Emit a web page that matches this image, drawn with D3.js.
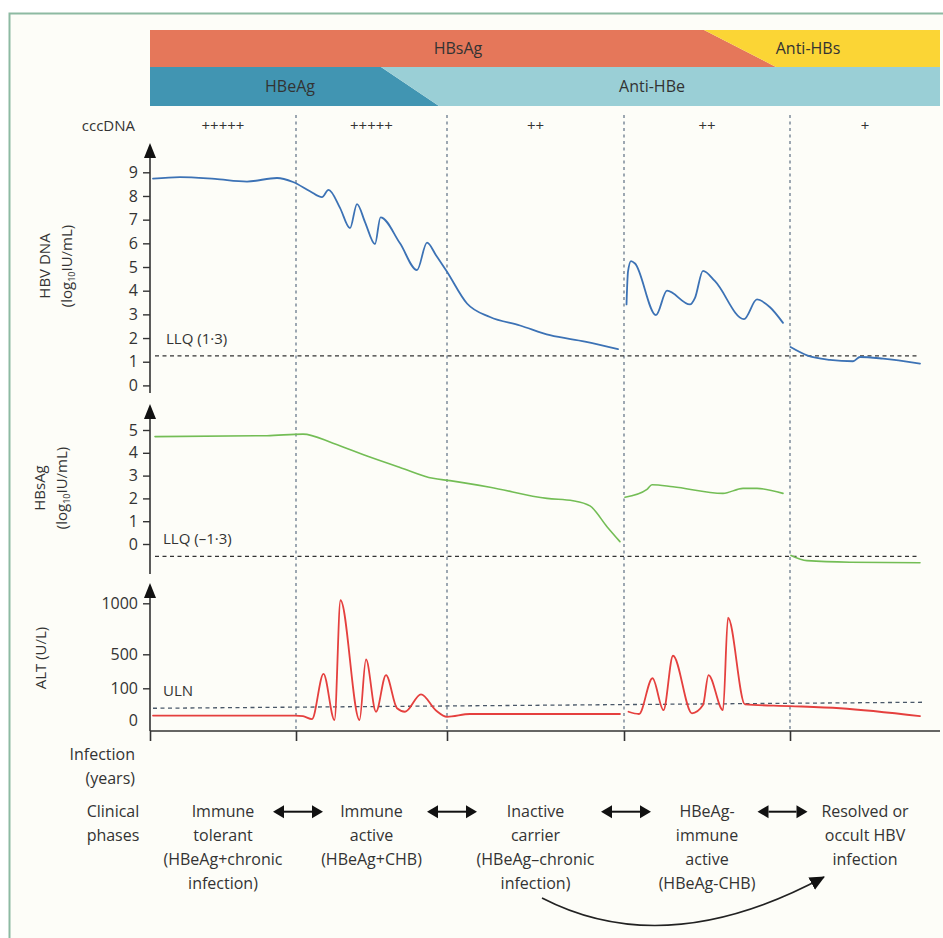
<!DOCTYPE html>
<html><head><meta charset="utf-8">
<script src="https://cdn.jsdelivr.net/npm/d3@7"></script>
<style>
body{margin:0;background:#fff}
text{font-family:'Open Sans',sans-serif;fill:#333}
</style></head>
<body><svg id="c" width="943" height="938"></svg>
<script>
// ---------- data ----------
const phaseBounds = [0, 14.6, 29.7, 47.4, 64.0, 79];
const cccDNA = ["+++++", "+++++", "++", "++", "+"];
const phaseLabels = [
  ["Immune", "tolerant", "(HBeAg+chronic", "infection)"],
  ["Immune", "active", "(HBeAg+CHB)"],
  ["Inactive", "carrier", "(HBeAg\u2013chronic", "infection)"],
  ["HBeAg-", "immune", "active", "(HBeAg-CHB)"],
  ["Resolved or", "occult HBV", "infection"]
];
const arrowCenters = [14.8, 30.2, 47.6, 63.25];
const hbsBand = {label: "HBsAg", labelAt: 30.8, until: [55.4, 62.6], next: "Anti-HBs", nextAt: 65.8};
const hbeBand = {label: "HBeAg", labelAt: 14.0, until: [23.1, 28.9], next: "Anti-HBe", nextAt: 50.2};

const dnaTicks = [0, 1, 2, 3, 4, 5, 6, 7, 8, 9];
const hbsTicks = [0, 1, 2, 3, 4, 5];
const altTicks = [0, 100, 500, 1000];

const dnaLLQ = 1.25, dnaLLQLabel = "LLQ (1\u00b73)";
const hbsLLQ = -0.54, hbsLLQLabel = "LLQ (\u20131\u00b73)";
const altULN = [37, 56], altULNLabel = "ULN";

const dnaSeg1 = [[0.3,8.73],[3,8.8],[6.5,8.72],[9.7,8.61],[12.7,8.76],[14.3,8.59],[16,8.2],[17.2,7.95],[17.85,8.26],[19,7.5],[20,6.64],[20.7,7.66],[21.5,6.9],[22.5,5.97],[23.05,7.1],[25,6.0],[26.7,4.87],[27.7,6.03],[28.6,5.5],[29.7,4.8],[31.7,3.46],[34,2.89],[37,2.53],[40,2.12],[43.5,1.85],[46.8,1.53]];
const dnaSeg2 = [[47.65,3.42],[47.8,4.8],[48.1,5.25],[48.5,5.15],[50.6,2.97],[51.7,4.0],[54,3.42],[54.5,3.7],[55.3,4.84],[56.5,4.4],[59.4,2.8],[60.7,3.63],[62,3.3],[63.3,2.64]];
const dnaSeg3 = [[64.05,1.62],[65.7,1.27],[68,1.08],[70.3,1.02],[71,1.2],[73.3,1.13],[77,0.92]];

const hbsSeg1 = [[0.5,4.71],[11.7,4.75],[15.3,4.82],[18.3,4.42],[21.7,3.86],[25,3.36],[28.3,2.88],[30,2.78],[34,2.49],[39.7,2.0],[42.3,1.9],[44,1.67],[45.7,0.76],[47,0.1]];
const hbsSeg2 = [[47.5,2.05],[49.7,2.4],[50.2,2.6],[52.3,2.51],[57.3,2.22],[59.3,2.44],[60.7,2.44],[63.3,2.22]];
const hbsSeg3 = [[64.1,-0.5],[65.7,-0.73],[70,-0.8],[77,-0.82]];

const altSeg1 = [[0.3,14],[14.5,14],[15.3,12],[16.2,3],[17.35,270],[18.45,0],[19.05,1030],[20.95,0],[21.6,440],[22.6,26],[23.6,256],[24.7,37],[25.5,26],[27.1,81],[28.6,30],[29.7,10],[32,19],[47,19]];
const altSeg2 = [[47.85,26],[48.9,19],[50.25,218],[51.35,31],[52.3,483],[54.2,21],[55.3,47],[55.85,256],[57.3,31],[57.8,859],[59.5,49],[64,44],[69,37],[77,12]];

// ---------- layout ----------
const svg = d3.select("#c");
const x = d3.scaleLinear().domain([0, 79]).range([150, 940]);
const yDNA = d3.scaleLinear().domain([0, 9]).range([385.4, 172.3]);
const yHBs = d3.scaleLinear().domain([0, 5]).range([544, 430]);
const yALT = d3.scaleLinear().domain([0, 100, 500, 1000]).range([720, 688.3, 654.3, 603.3]);
const xAxisY = 731;

// frame
svg.append("rect").attr("x", 0).attr("y", 0).attr("width", 943).attr("height", 938).attr("fill", "#fff");
svg.append("rect").attr("x", 9.5).attr("y", 13.5).attr("width", 1000).attr("height", 1000)
  .attr("fill", "#fdfdf8").attr("stroke", "#8dbaa2").attr("stroke-width", 2);

// bands
const bTop = 30, bMid = 67, bBot = 106;
function band(b, y0, y1, c1, c2) {
  svg.append("polygon").attr("fill", c1).attr("points",
    [[x(0), y0], [x(b.until[0]), y0], [x(b.until[1]), y1], [x(0), y1]].join(" "));
  svg.append("polygon").attr("fill", c2).attr("points",
    [[x(b.until[0]), y0], [x(79), y0], [x(79), y1], [x(b.until[1]), y1]].join(" "));
  const ym = (y0 + y1) / 2 + 5.5;
  svg.append("text").attr("x", x(b.labelAt)).attr("y", ym).attr("text-anchor", "middle")
    .attr("font-size", 16).text(b.label);
  svg.append("text").attr("x", x(b.nextAt)).attr("y", ym).attr("text-anchor", "middle")
    .attr("font-size", 16).text(b.next);
}
band(hbsBand, bTop, bMid, "#e5775a", "#fbd535");
band(hbeBand, bMid, bBot, "#4195b2", "#9acfd6");

// cccDNA row
const mids = d3.range(5).map(i => (phaseBounds[i] + phaseBounds[i + 1]) / 2);
svg.append("text").attr("x", 135).attr("y", 131).attr("text-anchor", "end").attr("font-size", 15).text("cccDNA");
svg.selectAll(".ccc").data(cccDNA).join("text").attr("class", "ccc")
  .attr("x", (d, i) => x(mids[i])).attr("y", 131).attr("text-anchor", "middle")
  .attr("font-size", 15).text(d => d);

// vertical dashed phase lines
svg.selectAll(".vline").data(phaseBounds.slice(1, 5)).join("line").attr("class", "vline")
  .attr("x1", d => x(d)).attr("x2", d => x(d)).attr("y1", 115).attr("y2", xAxisY)
  .attr("stroke", "#6a7a8c").attr("stroke-width", 1.3).attr("stroke-dasharray", "3,3.5");

// y axes
function yAxis(scale, ticks, top, bottom, noZeroTick) {
  const g = svg.append("g").attr("transform", `translate(${x(0)},0)`)
    .call(d3.axisLeft(scale).tickValues(ticks).tickFormat(d3.format("d")).tickSize(7).tickPadding(5));
  g.select(".domain").remove();
  g.selectAll(".tick line").attr("stroke", "#333").attr("stroke-width", 1.4)
    .attr("display", d => (noZeroTick && d === 0) ? "none" : null);
  g.selectAll(".tick text").attr("font-size", 16).attr("font-family", "'Open Sans',sans-serif").attr("fill", "#333");
  svg.append("line").attr("x1", x(0)).attr("x2", x(0)).attr("y1", top + 10).attr("y2", bottom)
    .attr("stroke", "#333").attr("stroke-width", 1.6);
  svg.append("polygon").attr("fill", "#111").attr("points",
    [[x(0), top], [x(0) - 6, top + 15], [x(0) + 6, top + 15]].join(" "));
}
yAxis(yDNA, dnaTicks, 143, 393);
yAxis(yHBs, hbsTicks, 404, 574);
yAxis(yALT, altTicks, 583, xAxisY, true);

// x axis
const gx = svg.append("g").attr("transform", `translate(0,${xAxisY})`)
  .call(d3.axisBottom(x).tickValues(phaseBounds.slice(0, 5)).tickSize(10).tickFormat(""));
gx.select(".domain").attr("stroke", "#333").attr("stroke-width", 1.6).attr("d", `M${x(0)},0H${x(79)}`);
gx.selectAll(".tick line").attr("stroke", "#333").attr("stroke-width", 1.6);

// axis titles
function vtitle(lines, cx, cy) {
  lines.forEach((l, i) => {
    const t = svg.append("text").attr("transform", `translate(${cx[i]},${cy}) rotate(-90)`)
      .attr("text-anchor", "middle").attr("font-size", 15);
    if (Array.isArray(l)) {
      l.forEach(p => {
        const s = t.append("tspan").text(p.t);
        if (p.sub) s.attr("font-size", 9).attr("dy", 3);
        else if (p.after) s.attr("dy", -3);
      });
    } else t.text(l);
  });
}
const logLine = [{t: "(log"}, {t: "10", sub: true}, {t: "IU/mL)", after: true}];
vtitle(["HBV DNA", logLine], [50, 72], 266);
vtitle(["HBsAg", logLine], [45, 67], 488);
vtitle(["ALT (U/L)"], [46], 658);

// reference lines
svg.append("line").attr("x1", x(0.5)).attr("x2", x(77)).attr("y1", yDNA(dnaLLQ)).attr("y2", yDNA(dnaLLQ))
  .attr("stroke", "#333").attr("stroke-width", 1.3).attr("stroke-dasharray", "4,3.5");
svg.append("text").attr("x", 166).attr("y", yDNA(dnaLLQ) - 12).attr("font-size", 15).text(dnaLLQLabel);
svg.append("line").attr("x1", x(0.5)).attr("x2", x(77)).attr("y1", yHBs(hbsLLQ)).attr("y2", yHBs(hbsLLQ))
  .attr("stroke", "#333").attr("stroke-width", 1.3).attr("stroke-dasharray", "4,3.5");
svg.append("text").attr("x", 163).attr("y", yHBs(hbsLLQ) - 12).attr("font-size", 15).text(hbsLLQLabel);
svg.append("line").attr("x1", x(0.3)).attr("x2", x(77.2)).attr("y1", yALT(altULN[0])).attr("y2", yALT(altULN[1]))
  .attr("stroke", "#4a5868").attr("stroke-width", 1.3).attr("stroke-dasharray", "4,3.5");
svg.append("text").attr("x", 163).attr("y", yALT(altULN[0]) - 12).attr("font-size", 15).text(altULNLabel);

// curves
function curve(data, y, color, w) {
  svg.append("path").datum(data).attr("fill", "none").attr("stroke", color).attr("stroke-width", w)
    .attr("stroke-linejoin", "round").attr("stroke-linecap", "round")
    .attr("d", d3.line().x(d => x(d[0])).y(d => y(d[1])).curve(d3.curveMonotoneX));
}
[dnaSeg1, dnaSeg2, dnaSeg3].forEach(s => curve(s, yDNA, "#3c72b5", 1.8));
[hbsSeg1, hbsSeg2, hbsSeg3].forEach(s => curve(s, yHBs, "#73bd55", 1.6));
[altSeg1, altSeg2].forEach(s => curve(s, yALT, "#e5403e", 1.8));

// bottom labels
svg.append("text").attr("x", 135).attr("y", 759.5).attr("text-anchor", "end").attr("font-size", 16)
  .selectAll("tspan").data(["Infection", "(years)"]).join("tspan")
  .attr("x", 135).attr("dy", (d, i) => i ? 24 : 0).text(d => d);
svg.append("text").attr("x", 113).attr("y", 817).attr("text-anchor", "middle").attr("font-size", 16)
  .selectAll("tspan").data(["Clinical", "phases"]).join("tspan")
  .attr("x", 113).attr("dy", (d, i) => i ? 24 : 0).text(d => d);
phaseLabels.forEach((lines, i) => {
  svg.append("text").attr("y", 817).attr("text-anchor", "middle").attr("font-size", 16)
    .selectAll("tspan").data(lines).join("tspan")
    .attr("x", x(mids[i])).attr("dy", (d, j) => j ? 24 : 0).text(d => d);
});

// double arrows
const ay = 811.7, half = 25, ah = 11, aw = 6.5;
arrowCenters.forEach(c => {
  const cx = x(c);
  svg.append("line").attr("x1", cx - half + ah).attr("x2", cx + half - ah).attr("y1", ay).attr("y2", ay)
    .attr("stroke", "#111").attr("stroke-width", 2);
  svg.append("polygon").attr("fill", "#111").attr("points",
    [[cx - half, ay], [cx - half + ah, ay - aw], [cx - half + ah, ay + aw]].join(" "));
  svg.append("polygon").attr("fill", "#111").attr("points",
    [[cx + half, ay], [cx + half - ah, ay - aw], [cx + half - ah, ay + aw]].join(" "));
});

// curved arrow from inactive carrier to resolved
svg.append("defs").append("marker").attr("id", "ah").attr("markerUnits", "userSpaceOnUse")
  .attr("markerWidth", 16).attr("markerHeight", 14).attr("refX", 14).attr("refY", 7).attr("orient", "auto")
  .append("path").attr("d", "M0,0 L15,7 L0,14 Z").attr("fill", "#111");
const s0 = [x(39.2), 898], e0 = [x(67.4), 877], c0 = [x(51.6), 962];
svg.append("path").attr("d", `M${s0}Q${c0} ${e0}`).attr("fill", "none").attr("stroke", "#222")
  .attr("stroke-width", 1.6).attr("marker-end", "url(#ah)");
</script></body></html>
